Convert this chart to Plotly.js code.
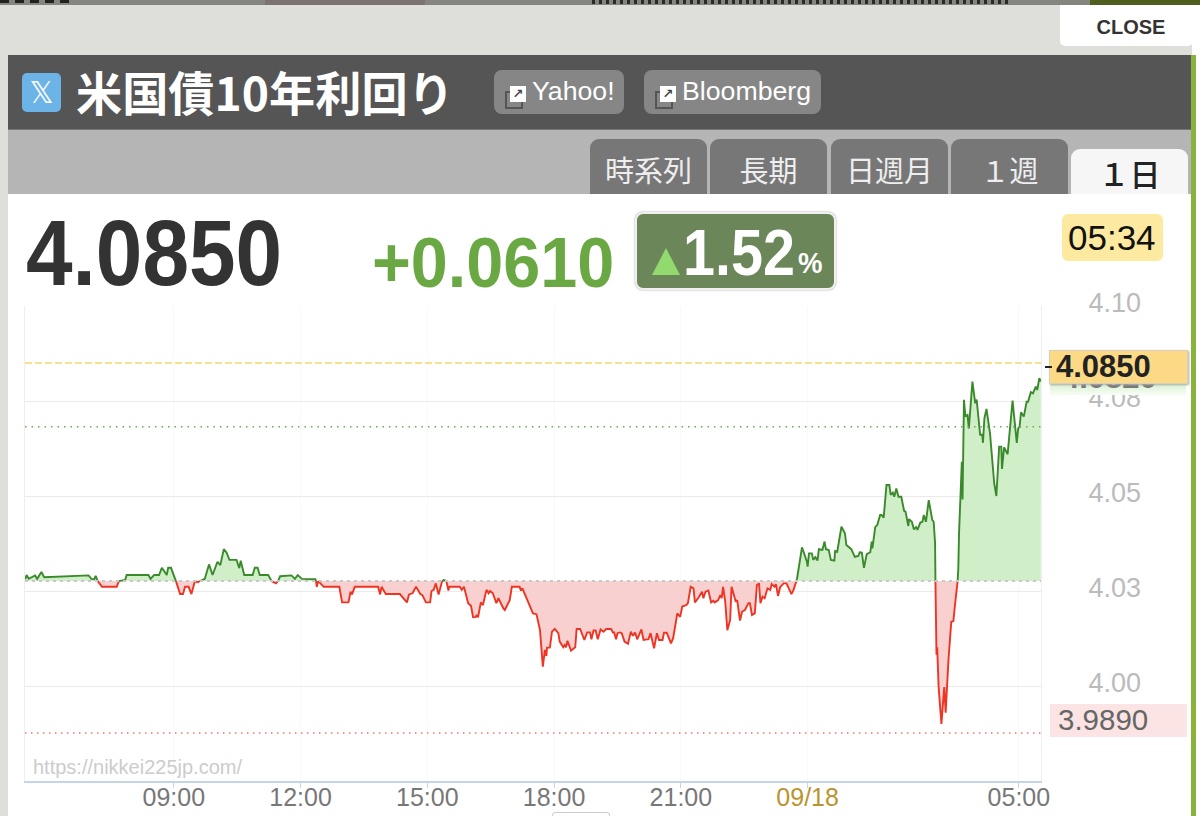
<!DOCTYPE html>
<html><head><meta charset="utf-8">
<script src="https://cdn.plot.ly/plotly-3.0.1.min.js"></script>
<style>
html,body{margin:0;padding:0;width:1200px;height:816px;overflow:hidden;background:#fff;font-family:"Liberation Sans",Arial,sans-serif}
.b{position:absolute;box-sizing:border-box}
.t{position:absolute;white-space:nowrap;line-height:1}
.tab{position:absolute;top:139px;height:55px;width:117px;background:#777;border-radius:9px 9px 0 0;color:#eee;font:400 29px/61px "Noto Sans CJK JP";text-align:center}
.btn{position:absolute;top:70px;height:44px;background:#868686;border-radius:8px;color:#fff;font:26.7px/42px "Liberation Sans"}
.ic{position:absolute;left:11px;top:16px;width:21px;height:21px}
.ic i{position:absolute;display:block}
#chart{position:absolute;left:0;top:0;width:1200px;height:816px}
</style></head><body>
<div class="b" style="left:0;top:0;width:1200px;height:5px;background:#85857f"></div>
<div class="b" style="left:265px;top:0;width:160px;height:5px;background:#7c7272"></div>
<div class="b" style="left:0;top:0;width:70px;height:3px;background:repeating-linear-gradient(90deg,#222 0 9px,transparent 9px 15px)"></div>
<div class="b" style="left:592px;top:0;width:418px;height:4px;background:repeating-linear-gradient(90deg,#2a2a2a 0 3px,transparent 3px 7px)"></div>
<div class="b" style="left:1090px;top:0;width:110px;height:5px;background:#4f5f20"></div>
<div class="b" style="left:0;top:5px;width:1192px;height:811px;background:#dededb"></div>
<div class="b" style="left:1060px;top:5px;width:133px;height:41px;background:#fff;border-radius:0 0 5px 5px"></div>
<div class="t" style="left:1060px;width:142px;text-align:center;top:17px;font-size:20px;font-weight:700;color:#333">CLOSE</div>
<div class="b" style="left:8px;top:55px;width:1184px;height:75px;background:#555;border-bottom:1px solid #777"></div>
<div class="b" style="left:8px;top:130px;width:1184px;height:64px;background:#b5b5b5"></div>
<div class="b" style="left:8px;top:194px;width:1184px;height:622px;background:#fff"></div>
<div class="b" style="left:1191px;top:55px;width:5px;height:761px;background:#8ab33c"></div>
<div class="b" style="left:22px;top:73px;width:39px;height:39px;background:#6cb4e8;border-radius:5px;color:#fff;font:30px/39px 'DejaVu Sans';text-align:center">𝕏</div>
<div class="t" style="left:76px;top:65px;font:700 46.2px/52px 'Noto Sans CJK JP';color:#fff">米国債10年利回り</div>
<div class="btn" style="left:494px;width:130px;padding-left:38px;box-sizing:border-box"><span class="ic"><i style="left:0;top:5px;width:14px;height:14px;border:2px solid #555"></i><i style="left:5px;top:0;width:16px;height:16px;background:#fff;color:#444;font:700 13px/16px 'DejaVu Sans';text-align:center">↗</i></span>Yahoo!</div>
<div class="btn" style="left:644px;width:177px;padding-left:38px;box-sizing:border-box"><span class="ic"><i style="left:0;top:5px;width:14px;height:14px;border:2px solid #555"></i><i style="left:5px;top:0;width:16px;height:16px;background:#fff;color:#444;font:700 13px/16px 'DejaVu Sans';text-align:center">↗</i></span>Bloomberg</div>
<div class="tab" style="left:590px">時系列</div>
<div class="tab" style="left:710px">長期</div>
<div class="tab" style="left:831px">日週月</div>
<div class="tab" style="left:951px">１週</div>
<div class="tab" style="left:1071px;top:149px;height:45px;background:#f6f6f6;color:#222;font:500 31px/48px 'Noto Sans CJK JP'">１日</div>

<div class="t" style="left:26px;top:207px;font-size:92px;font-weight:700;color:#333;transform:scaleX(.91);transform-origin:left">4.0850</div>
<div class="t" style="left:372px;top:228px;font-size:70px;font-weight:700;color:#6aa844;transform:scaleX(.95);transform-origin:left">+0.0610</div>
<div class="b" style="left:635px;top:212px;width:201px;height:78px;background:#6b8659;border:2px solid #f0f0f0;border-radius:8px;box-shadow:0 0 2px #999"></div>
<div class="b" style="left:652px;top:248px;width:0;height:0;border-left:14px solid transparent;border-right:14px solid transparent;border-bottom:27px solid #92d96e"></div>
<div class="t" style="left:683px;top:220px;font-size:65px;font-weight:700;color:#fff;transform:scaleX(.885);transform-origin:left">1.52</div>
<div class="t" style="left:798px;top:249px;font-size:29px;font-weight:700;color:#fff;transform:scaleX(.95);transform-origin:left">%</div>
<div class="b" style="left:1062px;top:214px;width:101px;height:47px;background:#fdeaa0;border-radius:6px"></div>
<div class="t" style="left:1068px;top:220px;font-size:35px;color:#111">05:34</div>

<div id="chart"></div>

<div class="b" style="left:1050px;top:384px;width:136px;height:11px;background:linear-gradient(#d9f2d2,#f8fdf6)"></div>
<div class="t" style="left:1062px;top:362px;font-size:31px;font-weight:700;color:#777">4.0820</div>
<div class="b" style="left:1049px;top:350px;width:139px;height:34px;background:#fbd985;border:1px solid #d8d0b8;box-shadow:1px 1px 2px #aaa"></div>
<div class="b" style="left:1045px;top:366px;width:7px;height:2px;background:#222"></div>
<div class="t" style="left:1056px;top:351px;font-size:31px;font-weight:700;color:#222">4.0850</div>
<div class="b" style="left:1050px;top:704px;width:137px;height:33px;background:#fbe4e3"></div>
<div class="t" style="left:1058px;top:705px;font-size:29.5px;color:#666">3.9890</div>
<div class="b" style="left:552px;top:812px;width:58px;height:6px;background:#fff;border:1px solid #ccc;border-radius:5px"></div>

<script>
const minutesFromMidnight = [329,331,334,343,346,352,356,419,423,427,429,432,438,459,462,471,473,504,507,512,519,523,530,532,536,542,543,545,549,553,556,561,565,570,574,577,584,590,595,602,606,611,615,619,629,633,635,640,652,655,659,662,674,679,685,688,691,707,712,716,722,741,
742,743,745,753,775,779,788,791,793,797,830,833,835,841,861,871,874,879,884,890,893,898,904,906,909,912,916,921,923,926,927,930,931,946,949,952,958,962,965,969,970,972,976,979,984,987,989,993,998,1001,1008,1010,1017,1020,1031,1033,1035,1043,1050,1055,1058,1060,1064,1067,1069,1070,1074,1077,1081,1086,1088,1091,1093,1095,1097,1099,1104,1110,1112,1117,1123,1127,1131,1133,1136,1139,1142,1146,1150,1154,1161,1164,1165,1168,1170,1174,1176,1180,1185,1189,1192,1195,1198,1204,1207,1214,1217,1222,1226,1229,1234,1236,1240,1246,1249,1253,1255,1259,1262,1268,1270,1274,1278,1280,1285,1290,1292,1295,1299,1303,1306,1308,1313,1316,1318,1320,1323,1326,1330,1332,1334,1338,1340,1344,1347,1351,1356,1358,1361,1365,1368,1371,1373,1376,1379,1383,1387,1389,1393,1395,1398,1401,1406,1410,1417,1420,1424,
1425,1432,1439,1440,1442,1446,1448,1451,1454,1456,1461,1464,1466,1470,1473,1478,1479,1482,1488,1493,1495,1502,1507,1512,1514,1517,1520,1524,1529,1531,1532,1536,1539,1543,1545,1548,1552,1556,1558,1561,1563,1566,1569,1573,1577,1579,1583,1584,1588,1591,1594,1596,1600,1603,1605,1608,1612,1617,1619,1621,1621.5,
1622,1623,1624,1626,1630,1634,1636,1640,1644,1647,1649,1653,
1654,1655,1658,1659,1660,1662,1664,1667,1669,1673,1674,1678,1680,1685,1688,1689,1691,1694,1699,1705,1708,1712,1715,1716,1719,1724,1731,1737,1739,1741,1743,1747,1751,1753,1757,1760,1764,1766,1769,1771];
const yields = [4.0281,4.0292,4.0282,4.0291,4.0282,4.0300,4.0286,4.0291,4.0282,4.0281,4.0290,4.0276,4.0261,4.0261,4.0276,4.0279,4.0292,4.0292,4.0282,4.0292,4.0292,4.0311,4.0292,4.0311,4.0311,4.0283,4.0276,4.0266,4.0242,4.0242,4.0261,4.0261,4.0242,4.0276,4.0273,4.0276,4.0282,4.0320,4.0292,4.0327,4.0318,4.0360,4.0351,4.0332,4.0332,4.0310,4.0330,4.0292,4.0292,4.0311,4.0311,4.0292,4.0292,4.0276,4.0270,4.0276,4.0289,4.0291,4.0282,4.0292,4.0282,4.0281,
4.0276,4.0261,4.0276,4.0261,4.0261,4.0220,4.0220,4.0248,4.0241,4.0261,4.0261,4.0241,4.0261,4.0242,4.0242,4.0220,4.0241,4.0244,4.0261,4.0242,4.0239,4.0220,4.0220,4.0250,4.0253,4.0270,4.0241,4.0276,4.0279,4.0277,4.0276,4.0251,4.0261,4.0261,4.0253,4.0261,4.0218,4.0211,4.0181,4.0182,4.0187,4.0181,4.0220,4.0213,4.0253,4.0244,4.0250,4.0244,4.0218,4.0231,4.0204,4.0200,4.0226,4.0261,4.0261,4.0251,4.0257,4.0222,4.0191,4.0189,4.0165,4.0147,4.0051,4.0095,4.0079,4.0101,4.0101,4.0143,4.0150,4.0139,4.0117,4.0108,4.0102,4.0108,4.0102,4.0119,4.0093,4.0102,4.0150,4.0150,4.0121,4.0141,4.0141,4.0123,4.0146,4.0146,4.0123,4.0149,4.0143,4.0150,4.0150,4.0139,4.0143,4.0123,4.0139,4.0141,4.0139,4.0117,4.0111,4.0143,4.0132,4.0141,4.0123,4.0149,4.0121,4.0123,4.0139,4.0099,4.0139,4.0121,4.0121,4.0140,4.0140,4.0112,4.0126,4.0169,4.0191,4.0182,4.0209,4.0213,4.0218,4.0261,4.0257,4.0220,4.0232,4.0248,4.0231,4.0248,4.0251,4.0220,4.0224,4.0220,4.0226,4.0239,4.0231,4.0261,4.0222,4.0147,4.0174,4.0261,4.0248,4.0222,4.0226,4.0172,4.0196,4.0200,4.0218,4.0218,4.0187,4.0191,4.0266,4.0270,4.0218,4.0235,4.0231,4.0257,4.0253,4.0268,4.0261,4.0268,4.0237,4.0260,4.0270,4.0270,4.0242,4.0253,4.0276,
4.0283,4.0365,4.0327,4.0314,4.0349,4.0349,4.0332,4.0339,4.0330,4.0360,4.0358,4.0380,4.0360,4.0358,4.0332,4.0330,4.0355,4.0353,4.0419,4.0402,4.0371,4.0360,4.0340,4.0342,4.0352,4.0351,4.0311,4.0347,4.0352,4.0380,4.0362,4.0418,4.0424,4.0450,4.0450,4.0443,4.0529,4.0529,4.0503,4.0509,4.0498,4.0520,4.0498,4.0498,4.0461,4.0459,4.0421,4.0439,4.0432,4.0412,4.0418,4.0411,4.0430,4.0432,4.0450,4.0432,4.0489,4.0437,4.0432,4.0376,4.0276,
4.0103,4.0082,4.0102,3.9998,3.9900,3.9997,3.9930,4.0068,4.0169,4.0171,4.0209,4.0276,
4.0310,4.0402,4.0568,4.0590,4.0491,4.0753,4.0709,4.0713,4.0678,4.0801,4.0801,4.0744,4.0754,4.0661,4.0661,4.0640,4.0704,4.0729,4.0665,4.0533,4.0500,4.0630,4.0630,4.0571,4.0628,4.0610,4.0751,4.0640,4.0678,4.0682,4.0720,4.0709,4.0748,4.0748,4.0773,4.0770,4.0788,4.0779,4.0810,4.0801];
const previousClose = 4.0276;
const currentLine = 4.0850;
const highLine = 4.0682;
const lowLine = 3.9876;
const xRange = [328.7, 1771.4];
const yRange = [3.975, 4.10];
const xTickVals = [540,720,900,1080,1260,1440,1740];
const xTickText = ['09:00','12:00','15:00','18:00','21:00','<span style="color:#b8952e">09/18</span>','05:00'];
const yTickVals = [4.00,4.025,4.05,4.075,4.10];
const yTickText = ['4.00','4.03','4.05','4.08','4.10'];
const sourceNote = 'https://nikkei225jp.com/';

const baseY = minutesFromMidnight.map(() => previousClose);
const upFill = yields.map(v => Math.max(v, previousClose));
const downFill = yields.map(v => Math.min(v, previousClose));
const upLine = yields.map(v => v >= previousClose ? v : null);
const downLine = yields.map(v => v <= previousClose ? v : null);
const x = minutesFromMidnight;
const hidden = {width:0,color:'rgba(0,0,0,0)'};
const traces = [
 {x, y:baseY, mode:'lines', line:hidden, hoverinfo:'skip'},
 {x, y:upFill, mode:'lines', line:hidden, fill:'tonexty', fillcolor:'#d0efc9', hoverinfo:'skip'},
 {x, y:baseY, mode:'lines', line:hidden, hoverinfo:'skip'},
 {x, y:downFill, mode:'lines', line:hidden, fill:'tonexty', fillcolor:'#f8d0cf', hoverinfo:'skip'},
 {x, y:upLine, mode:'lines', line:{color:'#3a8a2c',width:1.9}, connectgaps:false},
 {x, y:downLine, mode:'lines', line:{color:'#ee3524',width:1.9}, connectgaps:false}
];
const hline = (y,color,dash,width) => ({type:'line',xref:'paper',x0:0,x1:1,yref:'y',y0:y,y1:y,layer:'above',line:{color,dash,width}});
const layout = {
 width:1200,height:816,showlegend:false,
 margin:{l:25,r:159,t:306,b:35,pad:0},
 paper_bgcolor:'rgba(0,0,0,0)',plot_bgcolor:'rgba(0,0,0,0)',
 font:{family:'"Liberation Sans",Arial,sans-serif'},
 xaxis:{type:'linear',range:xRange,tickmode:'array',tickvals:xTickVals,ticktext:xTickText,
  tickfont:{size:25,color:'#777'},ticks:'outside',ticklen:5,tickcolor:'#c5d5e8',ticklabelstandoff:-12,
  showgrid:true,gridcolor:'#f9f9f9',gridwidth:1,showline:true,linecolor:'#c5d5e8',linewidth:2,zeroline:false,fixedrange:true},
 yaxis:{side:'right',range:yRange,tickmode:'array',tickvals:yTickVals,ticktext:yTickText,
  tickfont:{size:27,color:'#bbb'},ticks:'',ticklabelstandoff:41,ticklabelshift:-3,
  showgrid:true,gridcolor:'#eaeaea',gridwidth:1,showline:true,mirror:true,linecolor:'#eeeeee',linewidth:1,zeroline:false,fixedrange:true},
 shapes:[hline(currentLine,'#f5d76e','7px,3px',1.6),hline(highLine,'#6aa85a','1.5px,5px',1.5),hline(lowLine,'#ee7a70','1.5px,4.5px',1.5),hline(previousClose,'#c8c8c8','3px,4px',2)],
 annotations:[{xref:'paper',yref:'paper',x:0.0055,y:0.03,xanchor:'left',yanchor:'middle',showarrow:false,text:sourceNote,font:{size:20,color:'#ccc'}}]
};
Plotly.newPlot('chart',traces,layout,{displayModeBar:false,staticPlot:true});
</script>
</body></html>
